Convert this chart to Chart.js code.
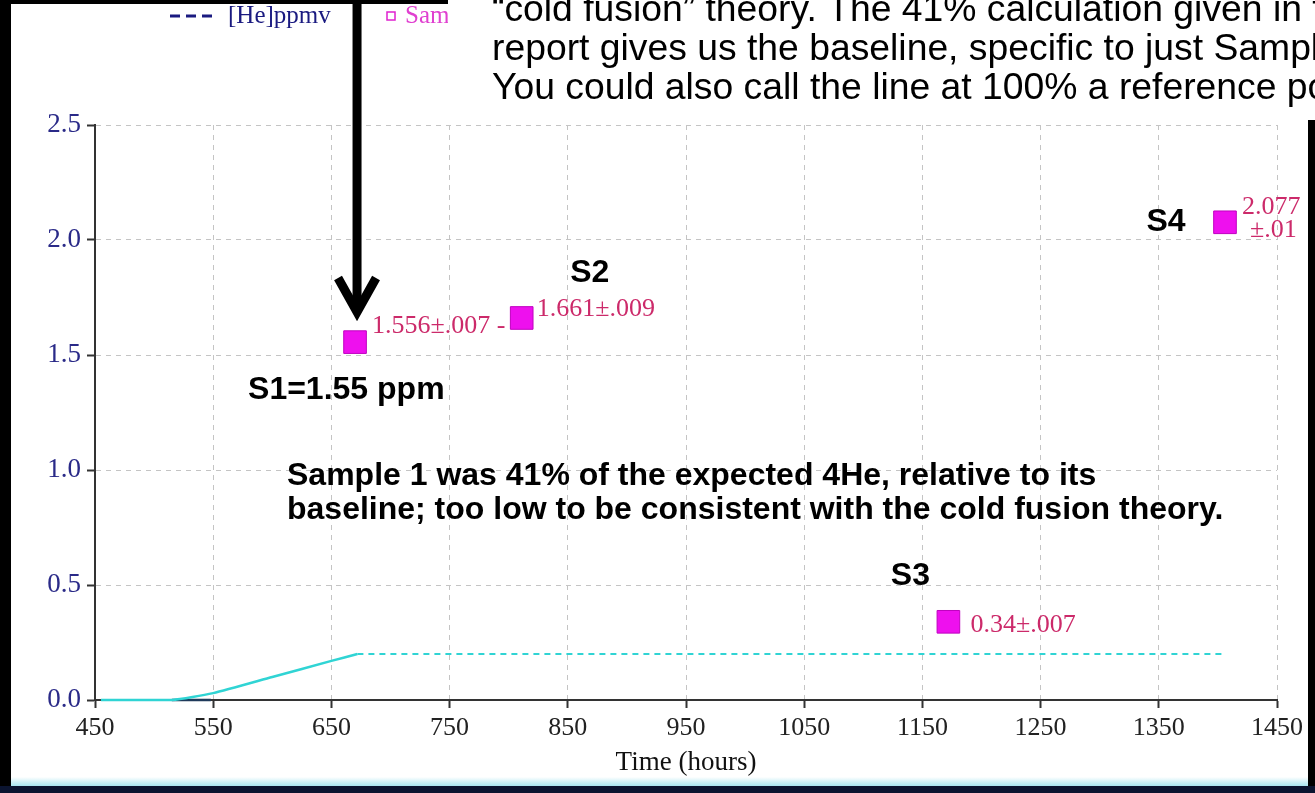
<!DOCTYPE html>
<html><head><meta charset="utf-8">
<script src="https://cdn.jsdelivr.net/npm/chart.js@4.4.0/dist/chart.umd.min.js"></script>
<style>html,body{margin:0;padding:0;background:#fff;overflow:hidden}canvas{display:block}</style>
</head><body>
<canvas id="c" width="1315" height="793"></canvas>
<script>
// ---- data ----
const xTicks = [450, 550, 650, 750, 850, 950, 1050, 1150, 1250, 1350, 1450];
const yTicks = [0, 0.5, 1.0, 1.5, 2.0, 2.5];
const riseHours = [455, 515, 550, 600, 650, 672];
const riseValues = [0, 0, 0.03, 0.10, 0.17, 0.2];
const plateauHours = [672, 1403];
const plateauValues = [0.2, 0.2];
const ppmvHours = [515, 548];
const ppmvValues = [0, 0];
const sampleHours = [670, 811, 1172, 1406];
const sampleValues = [1.556, 1.661, 0.34, 2.077];
const sampleLabels = [["1.556±.007 -"], ["1.661±.009"], ["0.34±.007"], ["2.077", "±.01"]];
const sampleNames = ["S1=1.55 ppm", "S2", "S3", "S4"];
const noteLines = ["Sample 1 was 41% of the expected 4He, relative to its",
                   "baseline; too low to be consistent with the cold fusion theory."];
const slideLines = ["\u201Ccold fusion\u201D theory. The 41% calculation given in t",
                    "report gives us the baseline, specific to just Sampl",
                    "You could also call the line at 100% a reference po"];
const legendNames = ["[He]ppmv", "Sam"];
const axisTitle = "Time (hours)";

// ---- styles (pixel offsets relative to each sample marker) ----
const labelOffsets = [[[17, -9]], [[15, -2]], [[22, 10]], [[17, -8], [25, 15]]];
const nameOffsets = [{dx: -107, dy: 57, align: 'left'}, {dx: 68, dy: -36, align: 'center'},
                     {dx: -38, dy: -37, align: 'center'}, {dx: -59, dy: 9, align: 'center'}];

const toXY = (xs, ys) => xs.map((x, i) => ({x, y: ys[i]}));
const SERIF = '"Liberation Serif", "Times New Roman", serif';
const SANS = '"Liberation Sans", Arial, sans-serif';

const overlay = {
  id: 'overlay',
  beforeDraw(chart) {
    const c = chart.ctx;
    c.save(); c.fillStyle = '#fff'; c.fillRect(0, 0, chart.width, chart.height); c.restore();
  },
  afterDraw(chart) {
    const c = chart.ctx;
    const meta = chart.getDatasetMeta(3);
    const pts = meta.data.map(p => ({x: p.x, y: p.y}));
    c.save();
    // legend
    c.strokeStyle = '#1a1a80'; c.lineWidth = 3; c.setLineDash([10, 6]);
    c.beginPath(); c.moveTo(170, 16); c.lineTo(218, 16); c.stroke(); c.setLineDash([]);
    c.font = '25px ' + SERIF; c.textBaseline = 'middle'; c.textAlign = 'left';
    c.fillStyle = '#1a1a80'; c.fillText(legendNames[0], 228, 16);
    c.strokeStyle = '#e020d0'; c.lineWidth = 1.5; c.strokeRect(387, 12, 8, 8);
    c.fillStyle = '#e040d0'; c.fillText(legendNames[1], 405, 16);
    // slide text box
    c.fillStyle = '#fff'; c.fillRect(448, 0, 867, 112);
    c.fillStyle = '#000'; c.font = '37.3px ' + SANS; c.textBaseline = 'alphabetic';
    const sb = [21, 60, 99];
    slideLines.forEach((t, i) => c.fillText(t, 492, sb[i]));
    // window frame
    c.fillStyle = '#000';
    c.fillRect(0, 0, 11, 793);
    c.fillRect(0, 0, 448, 4);
    c.fillRect(1308, 120, 7, 673);
    const g = c.createLinearGradient(0, 777, 0, 786);
    g.addColorStop(0, '#ffffff'); g.addColorStop(1, '#a8e6f0');
    c.fillStyle = g; c.fillRect(11, 777, 1297, 9);
    c.fillStyle = '#0b1430'; c.fillRect(0, 786, 1315, 7);
    // arrow to S1
    const ax = pts[0].x + 2;
    c.strokeStyle = '#000'; c.lineWidth = 9; c.lineCap = 'butt'; c.lineJoin = 'miter';
    c.beginPath(); c.moveTo(ax, 0); c.lineTo(ax, 305); c.stroke();
    c.beginPath(); c.moveTo(ax - 19, 278); c.lineTo(ax, 312); c.lineTo(ax + 19, 278); c.stroke();
    // sample value labels
    c.font = '26px ' + SERIF; c.fillStyle = '#cc2a6a'; c.textAlign = 'left';
    sampleLabels.forEach((lines, i) => {
      lines.forEach((t, j) => {
        const o = labelOffsets[i][j];
        c.fillText(t, pts[i].x + o[0], pts[i].y + o[1]);
      });
    });
    // bold annotations
    c.font = 'bold 32px ' + SANS; c.fillStyle = '#000';
    sampleNames.forEach((t, i) => {
      const o = nameOffsets[i];
      c.textAlign = o.align;
      c.fillText(t, pts[i].x + o.dx, pts[i].y + o.dy);
    });
    c.textAlign = 'left';
    c.fillText(noteLines[0], 287, 485);
    c.fillText(noteLines[1], 287, 519);
    c.restore();
  }
};

new Chart(document.getElementById('c'), {
  type: 'scatter',
  data: {
    datasets: [
      {label: 'rise', data: toXY(riseHours, riseValues), showLine: true, borderColor: '#30d4d4',
       borderWidth: 2.5, pointRadius: 0, tension: 0.2, fill: false, clip: false},
      {label: 'plateau', data: toXY(plateauHours, plateauValues), showLine: true, borderColor: '#30d4d4',
       borderWidth: 2, borderDash: [6, 5], pointRadius: 0, fill: false, clip: false},
      {label: legendNames[0], data: toXY(ppmvHours, ppmvValues), showLine: true, borderColor: '#1f3a5a',
       borderWidth: 2.5, pointRadius: 0, fill: false, clip: false},
      {label: 'Samples', data: toXY(sampleHours, sampleValues), showLine: false, pointStyle: 'rect',
       pointRadius: 16, pointHoverRadius: 16, backgroundColor: '#ee10ee', borderColor: '#c000c0', borderWidth: 1, clip: false}
    ]
  },
  options: {
    responsive: false, animation: false, devicePixelRatio: 1,
    layout: {padding: {left: 0, right: 38, top: 125, bottom: 0}},
    plugins: {legend: {display: false}, tooltip: {enabled: false}},
    scales: {
      x: {
        type: 'linear', min: xTicks[0], max: xTicks[xTicks.length - 1],
        afterFit: s => { s.height = 93; },
        afterBuildTicks: s => { s.ticks = xTicks.map(v => ({value: v})); },
        grid: {color: '#c4c4c4', lineWidth: 1, drawTicks: true, tickLength: 8, tickColor: '#333', tickWidth: 2},
        border: {display: true, color: '#333', width: 2, dash: [5, 5]},
        ticks: {color: '#222', font: {family: SERIF, size: 26}, padding: 5, maxRotation: 0, autoSkip: false,
                callback: v => String(v)},
        title: {display: true, text: axisTitle, color: '#111', font: {family: SERIF, size: 27}, padding: {bottom: 14}}
      },
      y: {
        type: 'linear', min: yTicks[0], max: yTicks[yTicks.length - 1],
        afterFit: s => { s.width = 95; },
        afterBuildTicks: s => { s.ticks = yTicks.map(v => ({value: v})); },
        grid: {color: '#c4c4c4', lineWidth: 1, drawTicks: true, tickLength: 8, tickColor: '#333', tickWidth: 2},
        border: {display: true, color: '#333', width: 2, dash: [5, 5]},
        ticks: {color: '#2a2a88', font: {family: SERIF, size: 27}, padding: 6, callback: v => Number(v).toFixed(1)}
      }
    }
  },
  plugins: [overlay]
});
</script>
</body></html>
